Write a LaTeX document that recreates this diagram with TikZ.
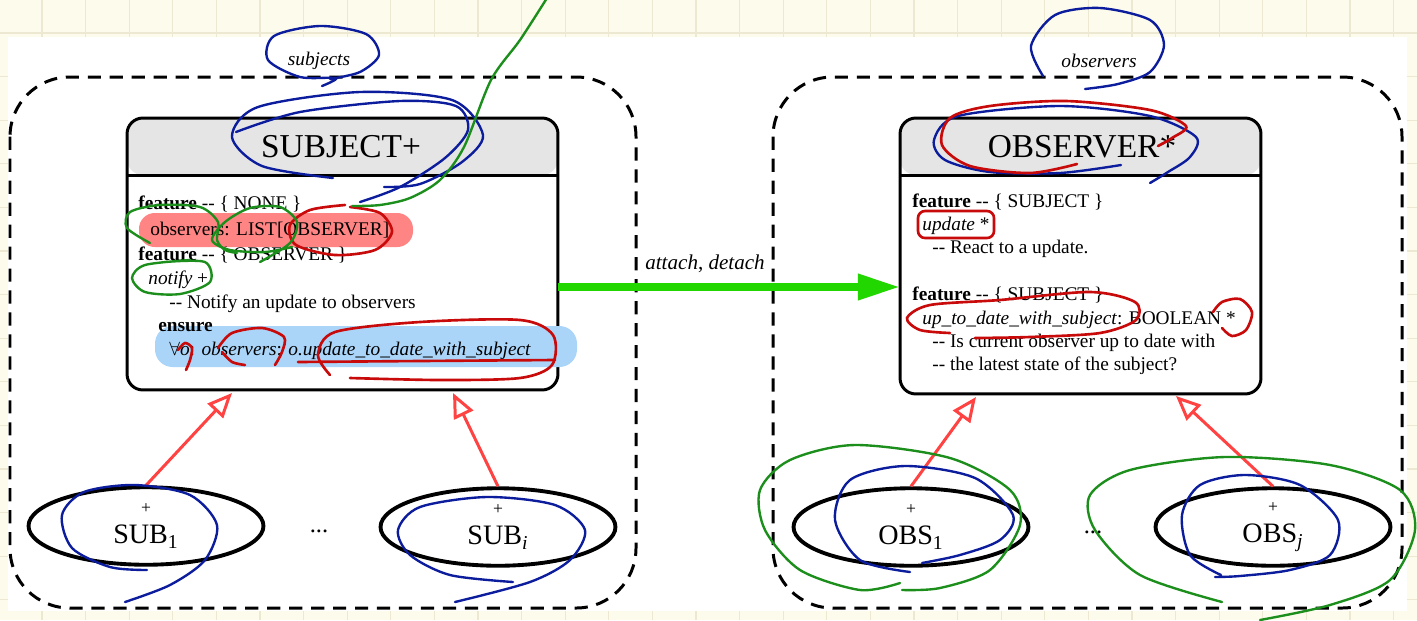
\documentclass[tikz,border=0pt]{standalone}
\usepackage{fontspec}
\setmainfont{Liberation Serif}
\usetikzlibrary{arrows.meta,shapes.geometric}
\definecolor{paper}{HTML}{FDFBEC}
\definecolor{gridline}{HTML}{EDE8D2}
\definecolor{headgray}{HTML}{E5E5E5}
\definecolor{inheritred}{HTML}{FF4242}
\definecolor{callgreen}{HTML}{22D600}
\definecolor{hlred}{HTML}{FF8585}
\definecolor{hlblue}{HTML}{AAD5F9}
\definecolor{inkblue}{HTML}{0B1C9C}
\definecolor{inkred}{HTML}{C80A0A}
\definecolor{inkgreen}{HTML}{1B8E1B}
\newcommand{\plusfont}{\fontsize{10}{10}\selectfont}
\tikzset{
  cluster/.style={draw, line width=1.7pt, dash pattern=on 7.5pt off 5pt, rounded corners=34pt},
  classbox/.style={draw, line width=1.7pt, rounded corners=9pt, fill=white, inner sep=0pt, outer sep=0pt,
    path picture={\fill[headgray] (path picture bounding box.north west) rectangle ([yshift=-1.14cm]path picture bounding box.north east);}},
  classtitle/.style={font=\fontsize{19}{19}\selectfont, inner sep=0pt},
  setlabel/.style={font=\fontsize{11}{11}\selectfont\itshape, inner sep=0pt},
  body/.style={anchor=base west, inner sep=0pt, font=\fontsize{11}{13}\selectfont},
  instance/.style={draw, ellipse, line width=2.2pt, minimum width=4.7cm, minimum height=1.55cm, inner sep=0pt, align=center, font=\fontsize{16}{16}\selectfont},
  dots/.style={font=\fontsize{14}{14}\selectfont, inner sep=0pt},
  inherit/.style={draw=inheritred, line width=1.7pt, -{Triangle[open, length=14pt, width=12pt]}},
  call/.style={draw=callgreen, line width=4.5pt, -{Triangle[length=24pt, width=14pt]}},
  inkb/.style={draw=inkblue, line width=1.35pt, line cap=round},
  inkr/.style={draw=inkred, line width=1.5pt, line cap=round},
  inkg/.style={draw=inkgreen, line width=1.35pt, line cap=round}
}
\begin{document}
\begin{tikzpicture}[x=0.02cm, y=-0.02cm]
  % paper and page
  \useasboundingbox (0,0) rectangle (1417,620);
  \fill[paper] (0,0) rectangle (1417,620);
  \foreach \k in {0,...,31} {\draw[gridline, line width=0.7pt] ({42+43.6*\k},0) -- ({42+43.6*\k},620);}
  \foreach \k in {0,...,13} {\draw[gridline, line width=0.7pt] (0,{33+43.6*\k}) -- (1417,{33+43.6*\k});}
  \fill[white] (8,37) rectangle (1407,611);

  % the two clusters
  \draw[cluster] (10,77) rectangle (636,608);
  \draw[cluster] (773,77) rectangle (1402,608);
  \node[setlabel] (subjects) at (319,61) {subjects};
  \node[setlabel] (observers) at (1099,61) {observers};

  % class SUBJECT
  \node[classbox, minimum width=8.62cm, minimum height=5.44cm] (subject) at (342.5,254) {};
  \draw[line width=1.7pt] ([yshift=-1.14cm]subject.north west) -- ([yshift=-1.14cm]subject.north east);
  \node[classtitle] (subjtitle) at (341,147) {SUBJECT+};
  \fill[hlred, rounded corners=9pt] (139,213) rectangle (413,247);
  \fill[hlblue, rounded corners=10pt] (155,326) rectangle (577,367);
  \node[body] (sfeat1) at (138,209) {\textbf{feature} -{}- \{ NONE \}};
  \node[body] (sattr) at (150,235) {observers: LIST[OBSERVER]};
  \node[body] (sfeat2) at (138,260) {\textbf{feature} -{}- \{ OBSERVER \}};
  \node[body] (snotify) at (148,284) {\textit{notify} +};
  \node[body] (snote) at (169,308) {-{}- Notify an update to observers};
  \node[body] (sensure) at (158,331) {\textbf{ensure}};
  \node[body] (spost) at (169,355) {$\forall$\textit{o}: \textit{observers}: \textit{o.update\_to\_date\_with\_subject}};

  % class OBSERVER
  \node[classbox, minimum width=7.22cm, minimum height=5.52cm] (observer) at (1080.5,256) {};
  \draw[line width=1.7pt] ([yshift=-1.14cm]observer.north west) -- ([yshift=-1.14cm]observer.north east);
  \node[classtitle] (obstitle) at (1082,147) {OBSERVER*};
  \node[body] (ofeat1) at (912,207) {\textbf{feature} -{}- \{ SUBJECT \}};
  \node[body] (oupdate) at (922,230) {\textit{update} *};
  \node[body] (onote1) at (932,253) {-{}- React to a update.};
  \node[body] (ofeat2) at (912,300) {\textbf{feature} -{}- \{ SUBJECT \}};
  \node[body] (oquery) at (922,324) {\textit{up\_to\_date\_with\_subject}: BOOLEAN *};
  \node[body] (onote2) at (932,347) {-{}- Is current observer up to date with};
  \node[body] (onote3) at (932,370) {-{}- the latest state of the subject?};

  % instances
  \node[instance] (sub1) at (146,526) {{\plusfont +}\\[1pt]SUB\textsubscript{1}};
  \node[instance] (subi) at (498,527) {{\plusfont +}\\[1pt]SUB\textsubscript{\textit{i}}};
  \node[instance] (obs1) at (911,527) {{\plusfont +}\\[1pt]OBS\textsubscript{1}};
  \node[instance] (obsj) at (1273,527) {{\plusfont +}\\[1pt]OBS\textsubscript{\textit{j}}};
  \node[dots] (subdots) at (319,531) {...};
  \node[dots] (obsdots) at (1093,532) {...};

  % inheritance
  \coordinate (sub1tip) at (232,393);
  \coordinate (subitip) at (453,393);
  \coordinate (obs1tip) at (976,397);
  \coordinate (obsjtip) at (1176,396);
  \draw[inherit] (sub1.north) -- (sub1tip);
  \draw[inherit] (subi.north) -- (subitip);
  \draw[inherit] (obs1.north) -- (obs1tip);
  \draw[inherit] (obsj.north) -- (obsjtip);

  % client-supplier
  \coordinate (attachrow) at (0,287);
  \draw[call] (subject.east |- attachrow) -- (observer.west |- attachrow)
    node[pos=0.43, yshift=13pt, font=\fontsize{12}{12}\selectfont] (calls) {\textit{attach}, \textit{detach}};

  % ink annotations
  \draw[inkb] plot[smooth] coordinates {(322,86) (336,78) (300,77) (268,60) (274,36) (320,26) (366,34) (379,55) (360,72) (330,79)};
  \draw[inkb] plot[smooth] coordinates {(333,178) (262,166) (232,137) (258,107) (360,92) (452,100) (483,135) (462,162) (420,184) (384,187)};
  \draw[inkb] plot[smooth] coordinates {(236,132) (300,112) (400,101) (456,106) (468,130) (445,158) (400,187) (360,202)};
  \draw[inkb] plot[smooth] coordinates {(1043,76) (1031,46) (1055,15) (1100,8) (1150,20) (1164,45) (1150,72) (1118,84) (1085,89)};
  \draw[inkb] plot[smooth] coordinates {(1121,165) (1060,173) (990,172) (945,160) (934,140) (958,116) (1060,106) (1150,116) (1196,137) (1190,157) (1168,172) (1150,183)};
  \draw[inkb] plot[smooth] coordinates {(147,570) (110,567) (72,548) (62,515) (84,492) (135,485) (190,495) (217,525) (205,560) (170,585) (125,602)};
  \draw[inkb] plot[smooth] coordinates {(513,582) (450,575) (410,555) (398,530) (420,507) (487,497) (555,505) (585,530) (570,560) (530,582) (455,602)};
  \draw[inkb] plot[smooth] coordinates {(910,572) (860,560) (835,520) (850,480) (905,466) (975,478) (1013,515) (1000,540) (960,555) (922,563)};
  \draw[inkb] plot[smooth] coordinates {(1221,575) (1190,555) (1182,515) (1200,485) (1245,475) (1300,485) (1338,520) (1330,555) (1290,570) (1240,576) (1215,577)};

  \draw[inkr] plot[smooth] coordinates {(1077,164) (1030,173) (970,166) (942,145) (950,118) (990,106) (1066,101) (1150,110) (1186,126) (1172,138) (1158,146)};
  \draw[inkr] plot[smooth] coordinates {(350,207) (380,213) (392,232) (375,250) (335,255) (296,245) (290,225) (310,210) (345,205)};
  \draw[inkr] plot[smooth] coordinates {(178,350) (185,343) (192,348) (190,360) (186,370)};
  \draw[inkr] plot[smooth] coordinates {(218,348) (232,333) (262,328) (284,337) (282,352) (275,365)};
  \draw[inkr] plot[smooth] coordinates {(222,352) (232,362) (245,365)};
  \draw[inkr] plot[smooth] coordinates {(330,375) (318,355) (335,332) (420,322) (520,320) (553,335) (552,365) (520,378) (440,380) (350,378)};
  \draw[inkr] plot[smooth] coordinates {(298,362) (420,361) (555,360)};
  \draw[inkr, rounded corners=4pt] (918,211) rectangle (994,238);
  \draw[inkr] plot[smooth] coordinates {(950,333) (920,330) (907,318) (930,305) (1000,300) (1090,292) (1135,302) (1136,320) (1100,333) (1030,337) (975,338)};
  \draw[inkr] plot[smooth] coordinates {(1213,312) (1222,302) (1240,299) (1252,312) (1246,330) (1232,336) (1222,328)};

  \draw[inkg] plot[smooth] coordinates {(547,-2) (520,40) (491,80) (464,147) (440,180) (410,198) (380,205) (352,206)};
  \draw[inkg] plot[smooth] coordinates {(150,243) (127,228) (130,212) (160,205) (200,207) (218,222) (217,240) (225,250) (237,253)};
  \draw[inkg] plot[smooth] coordinates {(260,262) (290,243) (297,222) (280,207) (250,208) (225,222) (212,240) (230,250) (265,252) (292,247)};
  \draw[inkg] plot[smooth] coordinates {(165,262) (205,262) (210,282) (180,294) (145,292) (132,278) (145,265) (190,260)};
  \draw[inkg] plot[smooth] coordinates {(900,583) (860,590) (800,570) (765,530) (760,490) (790,460) (855,445) (950,458) (1010,490) (1020,525) (990,570) (940,588) (902,590)};
  \draw[inkg] plot[smooth] coordinates {(1222,602) (1140,575) (1095,530) (1090,495) (1130,470) (1225,457) (1330,465) (1400,490) (1415,530) (1390,580) (1330,605) (1260,620)};
\end{tikzpicture}
\end{document}
